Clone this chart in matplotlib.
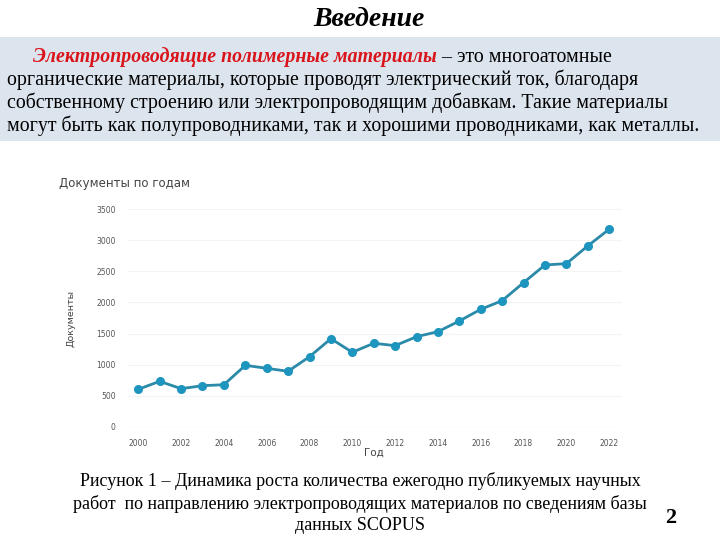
import matplotlib
matplotlib.use('Agg')
import matplotlib.pyplot as plt
from matplotlib.patches import Rectangle

# Data (Scopus documents per year)
years = list(range(2000, 2023))
docs = [602, 731, 612, 660, 676, 988, 940, 892, 1127, 1417, 1198,
        1343, 1305, 1449, 1530, 1702, 1890, 2029, 2319, 2604, 2625, 2910, 3179]
yticks = [0, 500, 1000, 1500, 2000, 2500, 3000, 3500]
xticks = list(range(2000, 2023, 2))

title = 'Введение'
intro_red = 'Электропроводящие полимерные материалы'
intro_rest = ' – это многоатомные'
intro_lines = [
    'органические материалы, которые проводят электрический ток, благодаря',
    'собственному строению или электропроводящим добавкам. Такие материалы',
    'могут быть как полупроводниками, так и хорошими проводниками, как металлы.',
]
caption = ['Рисунок 1 – Динамика роста количества ежегодно публикуемых научных',
           'работ  по направлению электропроводящих материалов по сведениям базы',
           'данных SCOPUS']
page_num = '2'

W, H = 720, 540
fig = plt.figure(figsize=(7.2, 5.4), dpi=100)
fig.patch.set_facecolor('white')

def fx(x):
    return x / W

def fy(y):
    return 1 - y / H

serif = 'Liberation Serif'

# slide title
fig.text(fx(369), fy(20), title, family=serif, fontsize=20, fontweight='bold',
         fontstyle='italic', ha='center', va='center', color='black')

# light blue box with intro text
fig.patches.append(Rectangle((0, fy(141)), 1, fy(37) - fy(141), transform=fig.transFigure,
                             facecolor='#dce4ee', edgecolor='none', zorder=0))

body_fs = 14.3
t_red = fig.text(fx(33), fy(57), intro_red, family=serif, fontsize=body_fs,
                 fontweight='bold', fontstyle='italic', color='#d9141b',
                 ha='left', va='center')
renderer = fig.canvas.get_renderer()
bb = t_red.get_window_extent(renderer=renderer)
fig.text(bb.x1 / W, fy(57), intro_rest, family=serif, fontsize=body_fs,
         ha='left', va='center', color='black')
for i, line in enumerate(intro_lines):
    fig.text(fx(7), fy(80 + 23 * i), line, family=serif, fontsize=body_fs,
             ha='left', va='center', color='black')

# chart
ax = fig.add_axes([fx(128), fy(426.7), fx(622) - fx(128), fy(209.3) - fy(426.7)])
ax.plot(years, docs, color='#2b8aa8', lw=2, marker='o', ms=5.5,
        markerfacecolor='#1d95bf', markeredgecolor='#1d95bf', zorder=3)
ax.set_xlim(1999.52, 2022.6)
ax.set_ylim(0, 3500)
ax.set_xticks(xticks)
ax.set_yticks(yticks)
ax.tick_params(axis='both', length=0, labelsize=5.5, colors='#555555', pad=9)
for s in ax.spines.values():
    s.set_visible(False)
ax.grid(axis='y', color='#f4f4f4', lw=0.8)
ax.axhline(0, color='#e4e4e4', lw=0.8, zorder=1)
ax.set_axisbelow(True)

fig.text(fx(59), fy(183), 'Документы по годам', fontsize=8.5, color='#444444',
         ha='left', va='center', family='DejaVu Sans')
fig.text(fx(71.5), fy(318), 'Документы', fontsize=6.8, color='#444444',
         rotation=90, ha='center', va='center', family='DejaVu Sans')
fig.text(fx(374), fy(452.5), 'Год', fontsize=7.5, color='#444444',
         ha='center', va='center', family='DejaVu Sans')

# caption
cap_y = [481, 504, 525]
for y, line in zip(cap_y, caption):
    fig.text(fx(360), fy(y), line, family=serif, fontsize=13, ha='center',
             va='center', color='black')
fig.text(fx(671), fy(518), page_num, family=serif, fontsize=16, fontweight='bold',
         ha='center', va='center', color='black')

fig.savefig('out.png', dpi=100)
